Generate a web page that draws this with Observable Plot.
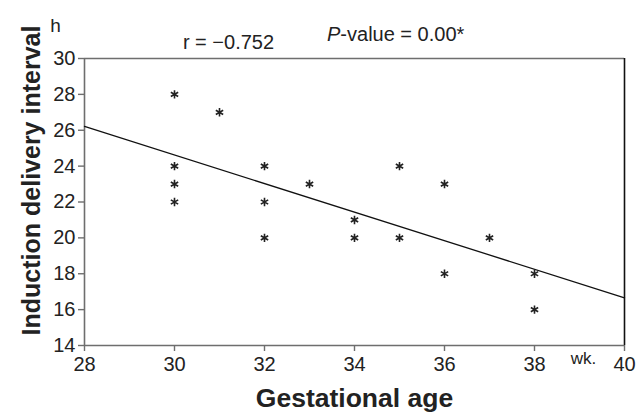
<!DOCTYPE html>
<html>
<head>
<meta charset="utf-8">
<script src="https://cdn.jsdelivr.net/npm/d3@7"></script>
<script src="https://cdn.jsdelivr.net/npm/@observablehq/plot@0.6"></script>
<style>
  html, body { margin: 0; padding: 0; background: #fff; }
  svg { font-family: "Liberation Sans", Arial, sans-serif; }
</style>
</head>
<body>
<div id="chart"></div>
<script>
// Data
const weeks = [30, 31, 30, 30, 30, 32, 32, 32, 33, 34, 34, 35, 35, 36, 36, 37, 38, 38];
const hours = [28, 27, 24, 23, 22, 24, 22, 20, 23, 21, 20, 24, 20, 23, 18, 20, 18, 16];
const xTicks = [28, 30, 32, 34, 36, 38, 40];
const yTicks = [14, 16, 18, 20, 22, 24, 26, 28, 30];
const xLabel = "Gestational age";
const yLabel = "Induction delivery interval";
const xUnit = "wk.";
const yUnit = "h";
const rText = "r = \u22120.752";
const pText = ["P", "-value = 0.00*"];

const points = weeks.map((w, i) => ({week: w, hours: hours[i]}));

// least-squares fit drawn across the whole x domain
const mx = d3.mean(weeks), my = d3.mean(hours);
const slope = d3.sum(weeks, (w, i) => (w - mx) * (hours[i] - my)) / d3.sum(weeks, w => (w - mx) ** 2);
const xDomain = [xTicks[0], xTicks[xTicks.length - 1]];
const yDomain = [yTicks[0], yTicks[yTicks.length - 1]];
const fit = xDomain.map(x => ({week: x, hours: my + slope * (x - mx)}));

const axisColor = "#6e6e6e";

const chart = Plot.plot({
  width: 639,
  height: 412,
  marginLeft: 84,
  marginRight: 15,
  marginTop: 58,
  marginBottom: 67,
  style: {fontFamily: "'Liberation Sans', Arial, sans-serif", color: "#222"},
  x: {domain: xDomain, ticks: xTicks},
  y: {domain: yDomain, ticks: yTicks},
  marks: [
    Plot.ruleY([yDomain[1]], {stroke: axisColor, strokeWidth: 1.6}),
    Plot.ruleX([xDomain[1]], {stroke: "#111", strokeWidth: 1.6}),
    Plot.ruleY([yDomain[0]], {stroke: axisColor, strokeWidth: 1.6}),
    Plot.ruleX([xDomain[0]], {stroke: axisColor, strokeWidth: 1.6}),
    Plot.axisX({ticks: xTicks, tickSize: 6, tickPadding: 5, fontSize: 20, label: null, stroke: axisColor, strokeWidth: 1.4, color: "#222"}),
    Plot.axisY({ticks: yTicks, tickSize: 6, tickPadding: 3, fontSize: 20, label: null, stroke: axisColor, strokeWidth: 1.4, color: "#222"}),
    Plot.line(fit, {x: "week", y: "hours", stroke: "#111", strokeWidth: 1.3}),
    Plot.dot(points, {x: "week", y: "hours", symbol: "asterisk", r: 4, stroke: "#222", strokeWidth: 1.6}),
    // axis labels and annotations
    Plot.text([xLabel], {frameAnchor: "bottom", dy: 61, text: d => d, fontSize: 26.5, fontWeight: "bold", fill: "#222", textAnchor: "middle"}),
    Plot.text([yLabel], {frameAnchor: "top-left", dx: -62, dy: 122, rotate: -90, text: d => d, fontSize: 25, fontWeight: "bold", fill: "#222", textAnchor: "middle"}),
    Plot.text([xUnit], {frameAnchor: "bottom-right", dx: -41, dy: 18, text: d => d, fontSize: 17, fill: "#222", textAnchor: "middle"}),
    Plot.text([yUnit], {frameAnchor: "top-left", dx: -29, dy: -40, text: d => d, fontSize: 19, fill: "#222", textAnchor: "middle"}),
    Plot.text([rText], {frameAnchor: "top-left", dx: 144, dy: -24, text: d => d, fontSize: 20, fill: "#222", textAnchor: "middle"})
  ]
});

// P-value annotation with italic P
const svg = d3.select(chart);
const t = svg.append("text")
  .attr("x", 327).attr("y", 41)
  .attr("text-anchor", "start")
  .attr("font-size", 20).attr("fill", "#222");
t.append("tspan").attr("font-style", "italic").text(pText[0]);
t.append("tspan").text(pText[1]);

document.getElementById("chart").appendChild(chart);
</script>
</body>
</html>
